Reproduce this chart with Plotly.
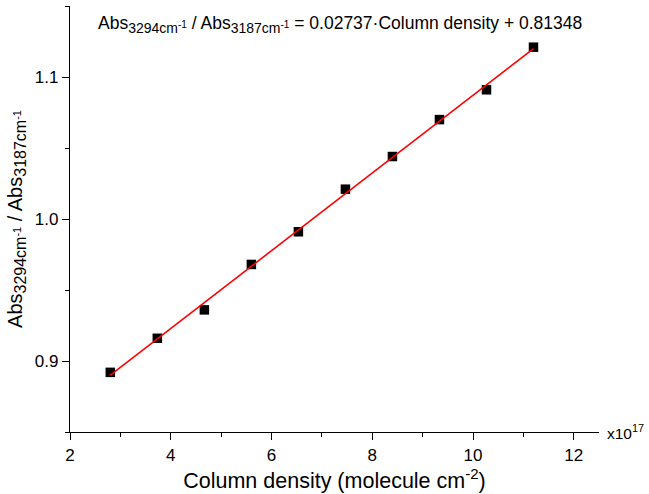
import plotly.graph_objects as go

# Measured ratio vs column density (x in units of 1e17 molecule cm^-2)
column_density = [2.8, 3.733, 4.667, 5.6, 6.533, 7.467, 8.4, 9.333, 10.267, 11.2]
abs_ratio = [0.892, 0.916, 0.936, 0.968, 0.991, 1.021, 1.044, 1.070, 1.091, 1.121]

# Linear fit parameters
slope = 0.02737
intercept = 0.81348

x_ticks = [2, 4, 6, 8, 10, 12]
y_ticks = [0.9, 1.0, 1.1]

font_family = "Liberation Sans, Arial, sans-serif"


def ratio_label(sub_px, sup_px):
    """Abs(3294 cm-1) / Abs(3187 cm-1) with sized sub/superscripts."""
    def absorb(wn):
        return (f"Abs<sub><span style='font-size:{sub_px}px'>{wn}cm</span>"
                f"<sup><span style='font-size:{sup_px}px'>-1</span></sup></sub>")
    return f"{absorb(3294)} / {absorb(3187)}"


fit_x = [column_density[0], column_density[-1]]
fit_y = [slope * v + intercept for v in fit_x]

fig = go.Figure()
fig.add_trace(go.Scatter(
    x=column_density, y=abs_ratio, mode="markers",
    marker=dict(symbol="square", size=9.5, color="black", line=dict(width=0)),
    showlegend=False,
))
fig.add_trace(go.Scatter(
    x=fit_x, y=fit_y, mode="lines",
    line=dict(color="#ff0000", width=1.6),
    showlegend=False,
))

axis_common = dict(
    showline=True, linecolor="black", linewidth=1.3,
    ticks="outside", ticklen=7, tickwidth=1.2, tickcolor="black",
    showgrid=False, zeroline=False, mirror=False,
    tickfont=dict(family=font_family, size=17, color="black"),
)

fig.update_layout(
    width=649, height=494,
    margin=dict(l=70, r=50, t=6, b=62),
    plot_bgcolor="white", paper_bgcolor="white",
    font=dict(family=font_family, color="black"),
    xaxis=dict(
        range=[2, 12.5], tickvals=x_ticks,
        minor=dict(dtick=1, tick0=1, ticks="outside", ticklen=4, tickwidth=1.2, tickcolor="black"),
        title=dict(text="Column density (molecule cm<sup>-2</sup>)",
                   font=dict(family=font_family, size=21.5, color="black"), standoff=2),
        **axis_common,
    ),
    yaxis=dict(
        range=[0.85, 1.15], tickvals=y_ticks, tickformat=".1f",
        minor=dict(dtick=0.05, tick0=0.85, ticks="outside", ticklen=4, tickwidth=1.2, tickcolor="black"),
        title=dict(text=ratio_label(16, 11),
                   font=dict(family=font_family, size=20, color="black"), standoff=6),
        **axis_common,
    ),
)

fig.add_annotation(
    xref="paper", yref="paper", x=0.049, y=0.957, xanchor="left", yanchor="middle",
    text=ratio_label(14, 10) + f" = {slope:.5f}·Column density + {intercept:.5f}",
    showarrow=False, font=dict(family=font_family, size=17.5, color="black"),
)
fig.add_annotation(
    xref="paper", yref="paper", x=1.012, y=0.0, xanchor="left", yanchor="middle",
    text="x10<sup>17</sup>", showarrow=False,
    font=dict(family=font_family, size=15.5, color="black"),
)

fig.write_html("out.html")
